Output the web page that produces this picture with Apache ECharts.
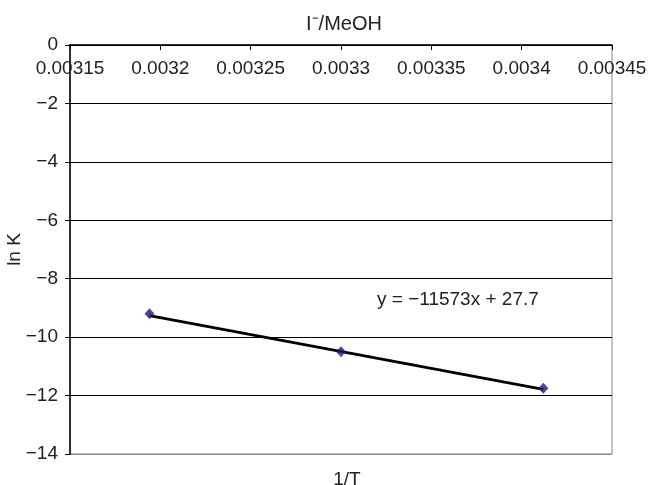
<!DOCTYPE html>
<html><head><meta charset="utf-8">
<script src="https://cdn.jsdelivr.net/npm/echarts@6/dist/echarts.min.js"></script>
<style>html,body{margin:0;padding:0;background:#fff}#c{width:650px;height:485px}</style>
</head><body><div id="c"></div>
<script>
const invT = [0.003194, 0.0033, 0.003412];
const lnK = [-9.2, -10.5, -11.75];
const slope = -11573;
const intercept = 27.7;
const xTicks = ['0.00315','0.0032','0.00325','0.0033','0.00335','0.0034','0.00345'];
const yTicks = ['0','−2','−4','−6','−8','−10','−12','−14'];

const pts = invT.map((x,i)=>[x,lnK[i]]);
const trend = [invT[0], invT[invT.length-1]].map(x=>[x, slope*x+intercept]);
const font = '"Liberation Sans", Arial, sans-serif';
const chart = echarts.init(document.getElementById('c'));
chart.setOption({
  animation:false,
  textStyle:{fontFamily:font},
  title:[
    {text:'I\u207B/MeOH', left:339, top:9, textAlign:'center', textStyle:{fontSize:20,fontWeight:'normal',color:'#222',fontFamily:font}},
    {text:'y = −11573x + 27.7', left:372, top:285, textStyle:{fontSize:19,fontWeight:'normal',color:'#222',fontFamily:font}},
    {text:'1/T', left:342, top:465, textAlign:'center', textStyle:{fontSize:19,fontWeight:'normal',color:'#222',fontFamily:font}}
  ],
  grid:{left:70,right:38,top:45,bottom:31,show:true,borderColor:'#888',borderWidth:1,outerBoundsMode:'none',containLabel:false},
  xAxis:{type:'value',min:0.00315,max:0.00345,interval:0.00005,position:'top',
    axisLine:{onZero:false,lineStyle:{color:'#000',width:1.5}},
    axisTick:{inside:true,length:5,lineStyle:{color:'#000'}},
    axisLabel:{inside:true,margin:14,color:'#222',fontSize:19,fontFamily:font,showMinLabel:true,showMaxLabel:true,hideOverlap:false,
      formatter:v=>{const s=parseFloat(v.toPrecision(6)).toString();const i=xTicks.indexOf(s);return i>=0?xTicks[i]:s;}},
    splitLine:{show:false}
  },
  yAxis:{type:'value',min:-14,max:0,interval:2,
    axisLine:{show:true,onZero:false,lineStyle:{color:'#000',width:1.5}},
    axisTick:{show:true,length:5,lineStyle:{color:'#000'}},
    axisLabel:{color:'#222',fontSize:19,fontFamily:font,margin:12,showMinLabel:true,showMaxLabel:true,hideOverlap:false,
      formatter:v=>yTicks[Math.round(-v/2)]},
    splitLine:{show:true,lineStyle:{color:['#888','#000','#000','#000','#000','#000','#000','#000'],width:1.2}},
    name:'ln K',nameLocation:'middle',nameGap:46,nameMoveOverlap:false,nameTextStyle:{fontSize:19,color:'#222',fontFamily:font}
  },
  series:[
    {type:'line',data:trend,symbol:'none',lineStyle:{color:'#000',width:3},z:2},
    {type:'scatter',data:pts,symbol:'diamond',symbolSize:[10,11],itemStyle:{color:'#1c1c78'},z:3}
  ]
});
</script></body></html>
